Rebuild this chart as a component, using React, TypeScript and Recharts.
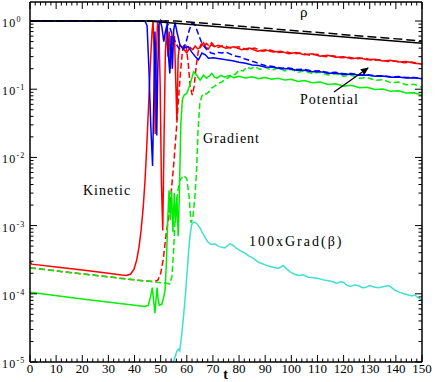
import React from 'react';
import { LineChart, Line, XAxis, YAxis } from 'recharts';

const W = 436;
const H = 382;
const FONT = '"Liberation Serif", "Times New Roman", "DejaVu Serif", serif';

// [t, value] pairs
const rhoSolid: [number, number][] = [[0, 1], [45, 1], [150, 0.47]];
const rhoDashed: [number, number][] = [[0, 1], [56, 1], [150, 0.51]];

const kinetic: [number, number][] = [
  [0, 3.0e-4], [0.6, 2.72e-4], [10, 2.48e-4], [20, 2.23e-4], [30, 2.0e-4], [35, 1.88e-4], [37, 1.86e-4],
  [38.5, 1.95e-4], [39.8, 2.3e-4], [40.8, 3.1e-4], [41.7, 4.8e-4], [42.5, 8.5e-4], [43.3, 1.8e-3],
  [44, 4.5e-3], [44.7, 0.015], [45.4, 0.06], [46.1, 0.25], [46.7, 0.7], [47.1, 1.0], [47.5, 0.35],
  [47.9, 0.022], [48.3, 0.3], [48.8, 0.95], [49.3, 0.8], [49.8, 0.12], [50.3, 4e-3], [50.8, 8.5e-4],
  [51.3, 0.02], [51.8, 0.35], [52.3, 0.75], [52.8, 0.3], [53.3, 0.7], [53.8, 0.2], [54.3, 0.65],
  [54.8, 0.45], [55.3, 0.6], [55.8, 0.12], [56.2, 0.035], [56.7, 0.3], [57.3, 0.45], [58.1, 0.41],
  [59, 0.38], [60, 0.34], [61.2, 0.41], [62.3, 0.38], [63.2, 0.43], [64.2, 0.39], [65.2, 0.41],
  [66.4, 0.48], [67.3, 0.41], [68.3, 0.39], [69.3, 0.45], [70.5, 0.42], [72, 0.44], [75, 0.4],
  [78, 0.42], [81, 0.38], [84, 0.4], [87, 0.36], [90, 0.38], [93, 0.35], [96, 0.36], [99, 0.33],
  [102, 0.345], [105, 0.32], [108, 0.33], [111, 0.305], [114, 0.315], [117, 0.295], [120, 0.3],
  [123, 0.28], [126, 0.29], [129, 0.27], [132, 0.275], [135, 0.26], [138, 0.265], [141, 0.25],
  [144, 0.255], [147, 0.24], [150, 0.235],
];

const kineticDashed: [number, number][] = [
  [0, 2.4e-4], [20, 1.96e-4], [40, 1.6e-4], [47.5, 1.5e-4], [49, 1.6e-4], [50, 2.0e-4], [51, 3.2e-4],
  [52, 7e-4], [53, 1.3e-3], [54, 3e-3], [55, 8e-3], [56, 0.025], [56.8, 0.07], [57.6, 0.18],
  [58.3, 0.35], [59, 0.46], [59.7, 0.44], [60.5, 0.25], [61.3, 0.11], [62.1, 0.082], [62.8, 0.11],
  [63.6, 0.22], [64.5, 0.38], [65.5, 0.46], [66.5, 0.42], [67.5, 0.47], [68.5, 0.43], [69.5, 0.48],
  [70.5, 0.43], [72, 0.41], [74, 0.44], [77, 0.4], [80, 0.42], [83, 0.38], [86, 0.4], [89, 0.36],
  [92, 0.375], [95, 0.345], [98, 0.355], [101, 0.33], [104, 0.34], [107, 0.315], [110, 0.325],
  [113, 0.3], [116, 0.31], [119, 0.29], [122, 0.295], [125, 0.28], [128, 0.285], [131, 0.265],
  [134, 0.27], [137, 0.255], [140, 0.26], [143, 0.245], [146, 0.25], [150, 0.235],
];

const potential: [number, number][] = [
  [0, 1], [44, 1], [44.8, 0.85], [45.5, 0.2], [46.2, 0.03], [46.9, 0.0075], [47.4, 0.08], [47.8, 0.7],
  [48.1, 0.25], [48.5, 0.021], [48.9, 0.2], [49.4, 0.9], [49.9, 1.0], [50.5, 0.8], [51.2, 0.5],
  [51.8, 0.7], [52.5, 0.9], [53, 0.3], [53.5, 0.17], [54, 0.6], [54.5, 0.2], [55, 0.75], [55.5, 0.95],
  [56.2, 0.7], [57.4, 0.44], [58.7, 0.4], [60.5, 0.42], [61.9, 0.35], [63.3, 0.3], [64.5, 0.27],
  [65.8, 0.34], [67.1, 0.32], [68.3, 0.285], [70.2, 0.29], [72.5, 0.28], [75, 0.27], [77.5, 0.262],
  [80, 0.248], [82.5, 0.24], [85, 0.226], [87.5, 0.222], [90, 0.212], [93, 0.21], [96, 0.2], [99, 0.2],
  [102, 0.19], [105, 0.19], [108, 0.18], [111, 0.181], [114, 0.172], [117, 0.173], [120, 0.165],
  [123, 0.167], [126, 0.16], [129, 0.161], [132, 0.155], [135, 0.156], [138, 0.15], [141, 0.151],
  [144, 0.146], [147, 0.147], [150, 0.142],
];

const potentialDashed: [number, number][] = [
  [0, 1], [52, 1], [53.5, 0.8], [55, 0.55], [56.5, 0.42], [57.7, 0.37], [58.8, 0.4], [59.8, 0.5],
  [61, 0.75], [62, 0.93], [63, 0.9], [64.2, 0.68], [65.5, 0.5], [66.7, 0.42], [68, 0.37], [69.3, 0.34],
  [70.7, 0.33], [72, 0.345], [73.5, 0.34], [75, 0.35], [76.5, 0.33], [78, 0.31], [80, 0.3], [82, 0.28],
  [84, 0.265], [86, 0.25], [88, 0.235], [90, 0.222], [93, 0.215], [96, 0.205], [99, 0.205], [102, 0.195],
  [105, 0.196], [108, 0.185], [111, 0.186], [114, 0.176], [117, 0.177], [120, 0.168], [123, 0.17],
  [126, 0.162], [129, 0.163], [132, 0.157], [135, 0.158], [138, 0.152], [141, 0.153], [144, 0.148],
  [147, 0.149], [150, 0.144],
];

const gradient: [number, number][] = [
  [0, 1.05e-4], [20, 8.4e-5], [44, 6.5e-5], [45.3, 6.8e-5], [46.1, 9e-5], [46.8, 1.23e-4], [47.3, 8e-5],
  [47.8, 5.2e-5], [48.2, 8e-5], [48.6, 1.23e-4], [49.1, 8e-5], [49.5, 6.8e-5], [50.4, 7e-5], [51.2, 9e-5],
  [51.7, 1.15e-4], [52.2, 3e-4], [52.7, 1.2e-3], [53.2, 3.3e-3], [53.7, 1.2e-3], [54.2, 3.2e-3],
  [54.7, 8e-4], [55.2, 3e-3], [55.7, 1.1e-3], [56.2, 2.6e-3], [56.7, 7e-4], [57.2, 3.5e-3], [57.7, 0.03],
  [58.3, 0.07], [59, 0.082], [60, 0.087], [61.2, 0.115], [62.6, 0.18], [63.8, 0.16], [65.1, 0.136],
  [66.4, 0.16], [67.5, 0.145], [68.5, 0.155], [69.6, 0.17], [70.6, 0.15], [71.5, 0.145], [73, 0.16],
  [74.5, 0.15], [76, 0.158], [78, 0.148], [80, 0.155], [82.5, 0.146], [85, 0.152], [87.5, 0.143],
  [90, 0.148], [92.5, 0.14], [95, 0.145], [97.5, 0.136], [100, 0.14], [102.5, 0.13], [105, 0.134],
  [108, 0.124], [111, 0.127], [114, 0.117], [117, 0.12], [120, 0.111], [123, 0.114], [126, 0.105],
  [129, 0.107], [132, 0.099], [135, 0.101], [138, 0.093], [141, 0.095], [144, 0.088], [147, 0.089],
  [150, 0.082],
];

const gradientDashed: [number, number][] = [
  [0, 2.4e-4], [20, 1.96e-4], [40, 1.6e-4], [47.5, 1.5e-4], [53.5, 1.4e-4], [54.3, 1.8e-4], [54.9, 4e-4],
  [55.5, 1.2e-3], [56.2, 2.6e-3], [57.2, 4.5e-3], [58.7, 5.4e-3], [60, 4.9e-3], [60.9, 2.6e-3],
  [61.6, 1.1e-3], [62.3, 1.3e-3], [63, 2.4e-3], [63.7, 6e-3], [64.3, 0.025], [65, 0.064], [65.8, 0.08],
  [66.5, 0.087], [67.5, 0.085], [68.5, 0.092], [69.6, 0.105], [70.8, 0.112], [72, 0.12], [73.5, 0.128],
  [74.6, 0.14], [76, 0.148], [77, 0.165], [78.5, 0.165], [80, 0.19], [81.5, 0.185], [83, 0.21],
  [84.5, 0.2], [86, 0.215], [88, 0.195], [90, 0.21], [92.5, 0.19], [95, 0.205], [97.5, 0.185],
  [100, 0.195], [102.5, 0.178], [105, 0.185], [108, 0.17], [111, 0.177], [114, 0.162], [117, 0.168],
  [120, 0.155], [123, 0.16], [126, 0.145], [129, 0.148], [132, 0.135], [135, 0.138], [138, 0.125],
  [141, 0.127], [144, 0.116], [147, 0.118], [150, 0.107],
];

const gradBeta: [number, number][] = [
  [54.9, 1.0e-5], [56.2, 1.45e-5], [56.8, 1.55e-5], [57.3, 1.45e-5], [58.1, 2.6e-5], [58.7, 4.5e-5],
  [59.3, 8e-5], [60, 1.8e-4], [60.7, 4.3e-4], [61.3, 7.5e-4], [61.9, 1.05e-3], [62.6, 1.12e-3],
  [63.2, 1.12e-3], [64, 1.05e-3], [65, 9.3e-4], [66, 7.8e-4], [67, 6.7e-4], [68, 5.8e-4], [68.9, 5.4e-4],
  [70, 5.3e-4], [70.8, 5.4e-4], [72, 5.0e-4], [73.5, 4.8e-4], [74.5, 4.7e-4], [76.5, 5.4e-4],
  [77.5, 5.2e-4], [78.8, 4.7e-4], [80.4, 4.3e-4], [82, 4.0e-4], [83.7, 3.6e-4], [85.5, 3.3e-4],
  [87.5, 2.9e-4], [89.5, 2.7e-4], [91.2, 2.55e-4], [93, 2.45e-4], [95, 2.35e-4], [96.9, 2.6e-4],
  [98.3, 2.3e-4], [99.6, 2.1e-4], [101, 1.95e-4], [102.7, 1.85e-4], [104.5, 1.9e-4], [106.5, 1.75e-4],
  [108.5, 1.72e-4], [110.4, 1.68e-4], [112.3, 1.6e-4], [114.2, 1.55e-4], [116, 1.5e-4], [117.3, 1.42e-4],
  [118.7, 1.5e-4], [120, 1.47e-4], [121.3, 1.33e-4], [122.6, 1.28e-4], [124.2, 1.35e-4], [125.8, 1.31e-4],
  [127.2, 1.23e-4], [128.3, 1.24e-4], [130, 1.32e-4], [131.5, 1.26e-4], [133.5, 1.23e-4], [135.5, 1.28e-4],
  [137.3, 1.32e-4], [139, 1.18e-4], [139.9, 1.11e-4], [141.5, 1.05e-4], [143.1, 1.0e-4], [144.8, 9.6e-5],
  [146.2, 9.3e-5], [147.3, 9.6e-5], [148.1, 9.0e-5], [149, 8.6e-5], [150, 7.9e-5],
];

// axis ticks
const xMajorTicks = [0, 10, 20, 30, 40, 50, 60, 70, 80, 90, 100, 110, 120, 130, 140, 150];
const xMinorSteps = [0, 2, 4, 6, 8];
const yMajorTicks = [1e-5, 1e-4, 1e-3, 1e-2, 1e-1, 1];
const yMinorSteps = [1, 2, 3, 4, 5, 6, 7, 8, 9];
const yTop = 1.9;

const xTicks = xMajorTicks.flatMap(m => xMinorSteps.map(s => m + s)).filter(v => v <= 150);
const yTicks = yMajorTicks.flatMap(d => yMinorSteps.map(s => s * d)).filter(v => v <= yTop);

const pts = (arr: [number, number][]) => arr.map(([t, v]) => ({ t, v }));
const isDecade = (v: number) => {
  const e = Math.log10(v);
  return Math.abs(e - Math.round(e)) < 1e-6;
};

const BottomTick = ({ x, y, payload }: any) => {
  const v = payload.value;
  const major = v % 10 === 0;
  return (
    <g>
      <line x1={x} x2={x} y1={y} y2={y - (major ? 7 : 3.5)} stroke="#000" strokeWidth={1} />
      {major && (
        <text x={x} y={y + 11} textAnchor="middle" fontSize={13} fontFamily={FONT} fill="#000">
          {v}
        </text>
      )}
    </g>
  );
};

const TopTick = ({ x, y, payload }: any) => {
  const major = payload.value % 10 === 0;
  return <line x1={x} x2={x} y1={y} y2={y + (major ? 7 : 3.5)} stroke="#000" strokeWidth={1} />;
};

const LeftTick = ({ x, y, payload }: any) => {
  const v = payload.value;
  const major = isDecade(v);
  return (
    <g>
      <line x1={x} x2={x + (major ? 7 : 3.5)} y1={y} y2={y} stroke="#000" strokeWidth={1} />
      {major && (
        <text x={2} y={y + 6} fontSize={12} letterSpacing={1.2} fontFamily={FONT} fill="#000">
          10
          <tspan dy={-5} fontSize={8}>{Math.round(Math.log10(v))}</tspan>
        </text>
      )}
    </g>
  );
};

const RightTick = ({ x, y, payload }: any) => {
  const major = isDecade(payload.value);
  return <line x1={x} x2={x - (major ? 7 : 3.5)} y1={y} y2={y} stroke="#000" strokeWidth={1} />;
};

const axisLine = { stroke: '#000', strokeWidth: 1.5 };

const series = [
  { key: 'kd', data: kineticDashed, color: '#ff0000', dash: '6 3' },
  { key: 'k', data: kinetic, color: '#ff0000', dash: undefined },
  { key: 'gd', data: gradientDashed, color: '#00ee00', dash: '6 3' },
  { key: 'g', data: gradient, color: '#00ee00', dash: undefined },
  { key: 'pd', data: potentialDashed, color: '#0000ff', dash: '6 3' },
  { key: 'p', data: potential, color: '#0000ff', dash: undefined },
  { key: 'rs', data: rhoSolid, color: '#000000', dash: undefined },
  { key: 'rd', data: rhoDashed, color: '#000000', dash: '9 4' },
  { key: 'gb', data: gradBeta, color: '#40e0d0', dash: undefined },
];

export default function App() {
  const txt = { fontFamily: FONT, fontSize: 14, fill: '#000', letterSpacing: 1 };
  return (
    <div style={{ position: 'absolute', left: 0, top: 0, width: W, height: H, background: '#fff' }}>
      <LineChart width={W} height={H} margin={{ top: 0, right: 0, bottom: 0, left: 0 }}>
        <XAxis
          xAxisId="b"
          dataKey="t"
          type="number"
          domain={[0, 150]}
          allowDataOverflow
          ticks={xTicks}
          interval={0}
          height={20}
          tickSize={0}
          tickMargin={0}
          tickLine={false}
          axisLine={axisLine}
          tick={(p: any) => <BottomTick {...p} />}
        />
        <XAxis
          xAxisId="t"
          orientation="top"
          dataKey="t"
          type="number"
          domain={[0, 150]}
          allowDataOverflow
          ticks={xTicks}
          interval={0}
          height={2}
          tickSize={0}
          tickMargin={0}
          tickLine={false}
          axisLine={axisLine}
          tick={(p: any) => <TopTick {...p} />}
        />
        <YAxis
          yAxisId="l"
          type="number"
          scale="log"
          domain={[1e-5, yTop]}
          allowDataOverflow
          ticks={yTicks}
          interval={0}
          width={30}
          tickSize={0}
          tickMargin={0}
          tickLine={false}
          axisLine={axisLine}
          tick={(p: any) => <LeftTick {...p} />}
        />
        <YAxis
          yAxisId="r"
          orientation="right"
          type="number"
          scale="log"
          domain={[1e-5, yTop]}
          allowDataOverflow
          ticks={yTicks}
          interval={0}
          width={14}
          tickSize={0}
          tickMargin={0}
          tickLine={false}
          axisLine={axisLine}
          tick={(p: any) => <RightTick {...p} />}
        />
        {series.map(s => (
          <Line
            key={s.key}
            xAxisId="b"
            yAxisId="l"
            data={pts(s.data)}
            dataKey="v"
            type="linear"
            stroke={s.color}
            strokeWidth={1.5}
            strokeDasharray={s.dash}
            dot={false}
            activeDot={false}
            isAnimationActive={false}
          />
        ))}
      </LineChart>
      <svg width={W} height={H} style={{ position: 'absolute', left: 0, top: 0, pointerEvents: 'none' }}>
        <defs>
          <marker id="arrowHead" markerWidth="8" markerHeight="8" refX="7" refY="4" orient="auto" markerUnits="userSpaceOnUse">
            <path d="M0,0.5 L8,4 L0,7.5 z" fill="#000" />
          </marker>
        </defs>
        <line x1={334} y1={92} x2={368} y2={68} stroke="#000" strokeWidth={1.3} markerEnd="url(#arrowHead)" />
        <text x={300} y={17} {...txt} fontSize={15}>ρ</text>
        <text x={300} y={104} {...txt}>Potential</text>
        <text x={203} y={143} {...txt}>Gradient</text>
        <text x={83} y={195} {...txt}>Kinetic</text>
        <text x={249} y={246} {...txt} letterSpacing={2}>100xGrad(β)</text>
        <text x={226} y={379} {...txt} fontWeight="bold" textAnchor="middle">t</text>
      </svg>
    </div>
  );
}
